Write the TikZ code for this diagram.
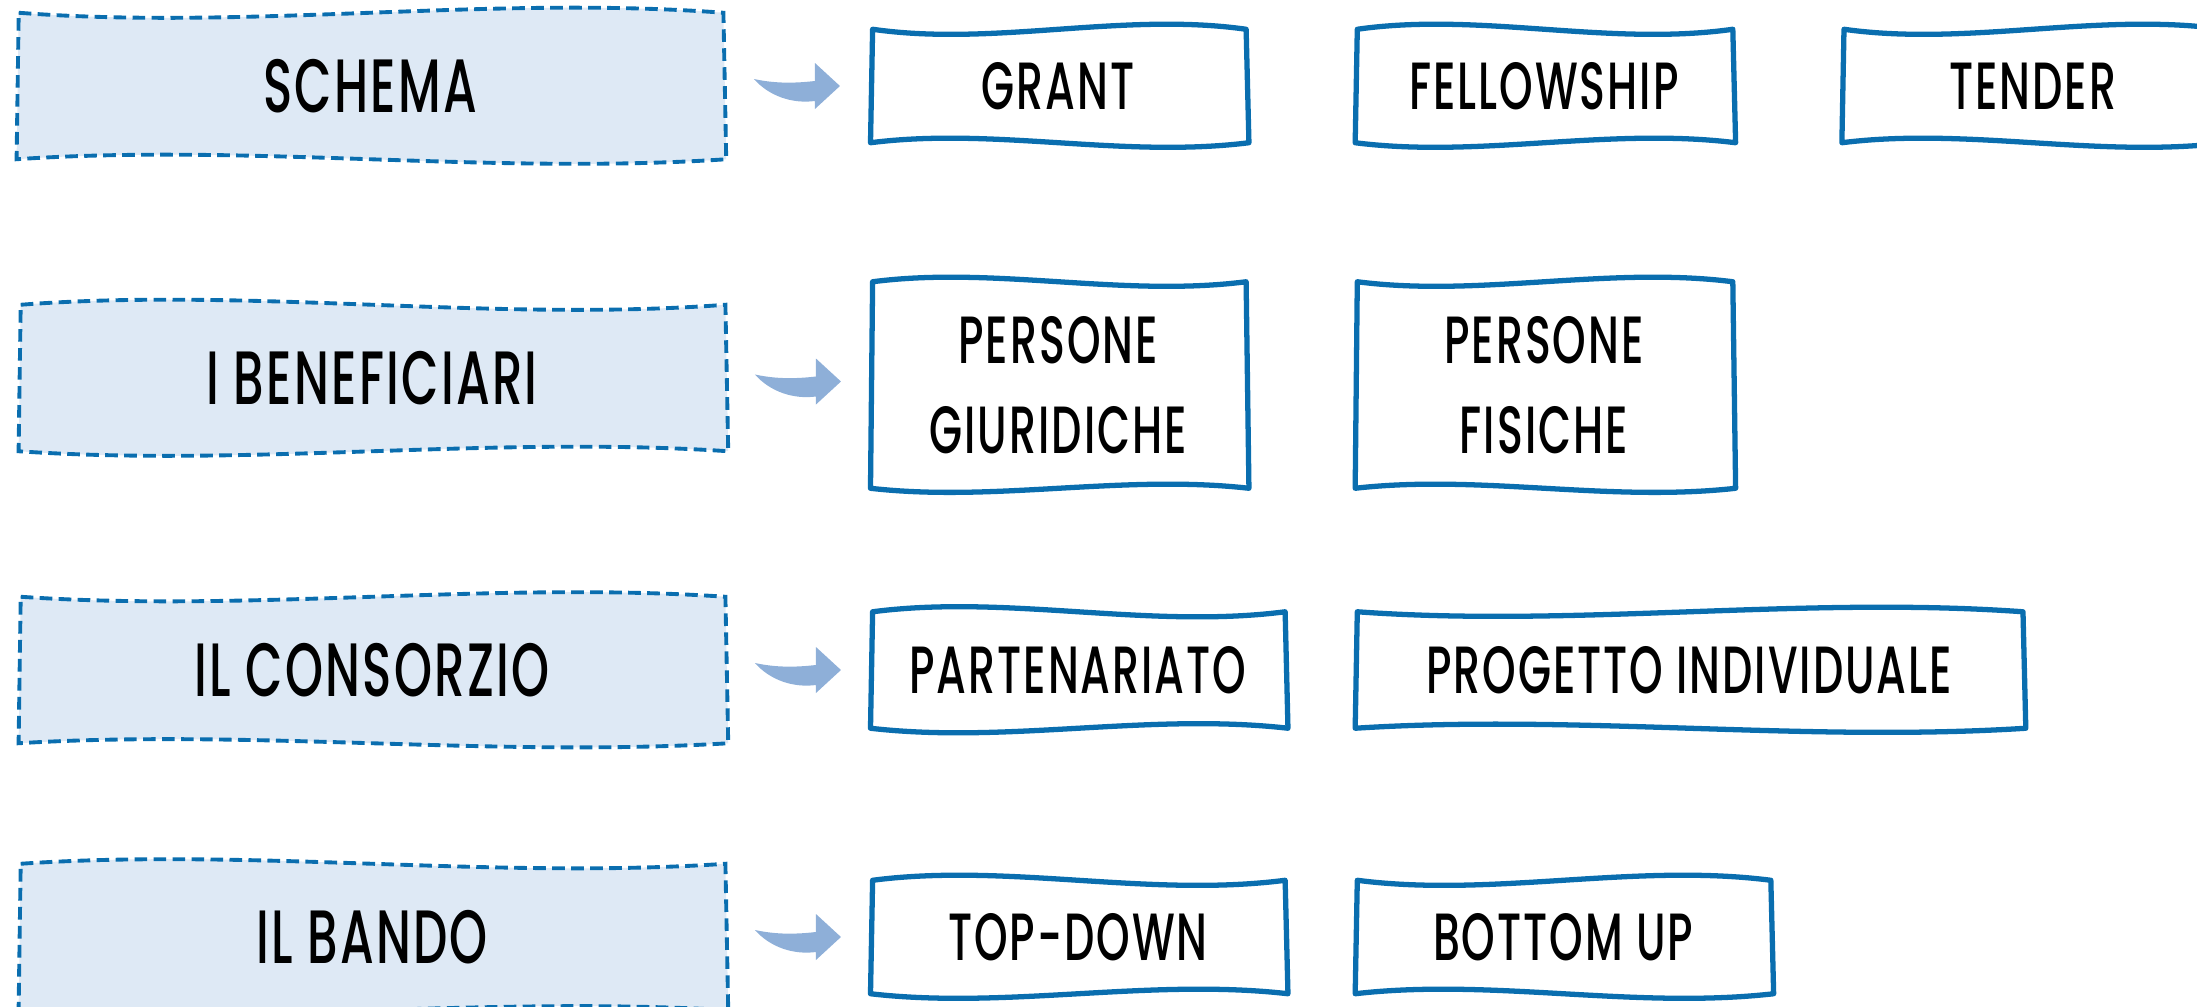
\documentclass[tikz,border=0pt]{standalone}
\usepackage{fontspec}
\setmainfont{Poppins}[UprightFont=* Medium, FakeStretch=0.64, LetterSpace=3]
\usepackage{tikz}
\usetikzlibrary{positioning,calc,backgrounds}
\definecolor{BoxBlue}{HTML}{0A6EAF}
\definecolor{HeadFill}{HTML}{DEE9F5}
\definecolor{SwooshBlue}{HTML}{8EAFD8}

% hand drawn frame round a node: style, node, wave size (pt)
\newcommand{\wavyframe}[3]{%
  \path[#1] ($(#2.north west)+(0.6pt,0pt)$)
    .. controls ($(#2.north west)!0.33!(#2.north east)+(0pt,{-(#3)*1pt})$) and ($(#2.north west)!0.67!(#2.north east)+(0pt,{(#3)*1pt})$) .. (#2.north east)
    -- ($(#2.south east)+(0.8pt,0pt)$)
    .. controls ($(#2.south east)!0.33!(#2.south west)+(0pt,{-(#3)*0.9pt})$) and ($(#2.south east)!0.67!(#2.south west)+(0pt,{(#3)*0.9pt})$) .. (#2.south west)
    -- cycle;}

\begin{document}
\begin{tikzpicture}[x=0.01cm, y=-0.01cm,
                    every node/.style={align=center, font=\fontsize{19}{25.6}\selectfont},
                    headbox/.style={minimum width=7.05cm, minimum height=1.45cm,
                                    font=\fontsize{21.5}{26}\selectfont},
                    itembox/.style={minimum height=1.12cm},
                    headline/.style={draw=BoxBlue, fill=HeadFill, line width=1.1pt,
                                     dash pattern=on 3.6pt off 1.8pt},
                    itemline/.style={draw=BoxBlue, fill=white, line width=1.5pt, line join=round},
                    swoosh/.pic={\fill[SwooshBlue] (-43,-7) .. controls (-20,-2) and (0,-3) .. (18,-5)
                                  -- (18,-23) -- (43,0) -- (18,23) -- (18,15)
                                  .. controls (-5,18) and (-28,10) .. cycle;}]
\useasboundingbox (0,0) rectangle (2197,1006);
% categories
\node[headbox] (schema) at (370,86) {SCHEMA};
\node[headbox] (benef) at (372,378) {I BENEFICIARI};
\node[headbox] (consorzio) at (372,670) {IL CONSORZIO};
\node[headbox] (bando) at (372,937) {IL BANDO};
% options
\node[itembox, minimum width=3.74cm, right=1.47cm of schema] (grant) {GRANT};
\node[itembox, minimum width=3.76cm, right=1.09cm of grant] (fellow) {FELLOWSHIP};
\node[itembox, minimum width=3.8cm, right=1.09cm of fellow] (tender) {TENDER};
\node[itembox, minimum width=3.74cm, minimum height=2.05cm, right=1.45cm of benef, yshift=-0.07cm] (giuridiche) {PERSONE\\GIURIDICHE};
\node[itembox, minimum width=3.76cm, minimum height=2.05cm, right=1.09cm of giuridiche] (fisiche) {PERSONE\\FISICHE};
\node[itembox, minimum width=4.13cm, minimum height=1.15cm, right=1.45cm of consorzio] (partenariato) {PARTENARIATO};
\node[itembox, minimum width=6.66cm, minimum height=1.15cm, right=0.7cm of partenariato] (individuale) {PROGETTO INDIVIDUALE};
\node[itembox, minimum width=4.13cm, right=1.45cm of bando] (topdown) {TOP-DOWN};
\node[itembox, minimum width=4.14cm, right=0.7cm of topdown] (bottomup) {BOTTOM UP};
% frames
\begin{scope}[on background layer]
  \foreach \n/\w in {schema/5, benef/-5, consorzio/4.5, bando/-4.5}
    \wavyframe{headline}{\n}{\w};
  \foreach \n/\w in {grant/5, fellow/-5, tender/5, giuridiche/-4.5, fisiche/4.5,
                     partenariato/-5, individuale/4.5, topdown/-5, bottomup/5}
    \wavyframe{itemline}{\n}{\w};
\end{scope}
% arrows
\pic at ($(schema.east)!0.5!(grant.west)$) {swoosh};
\pic at ($(benef.east)!0.5!(giuridiche.west)$) {swoosh};
\pic at ($(consorzio.east)!0.5!(partenariato.west)$) {swoosh};
\pic at ($(bando.east)!0.5!(topdown.west)$) {swoosh};
\end{tikzpicture}
\end{document}
